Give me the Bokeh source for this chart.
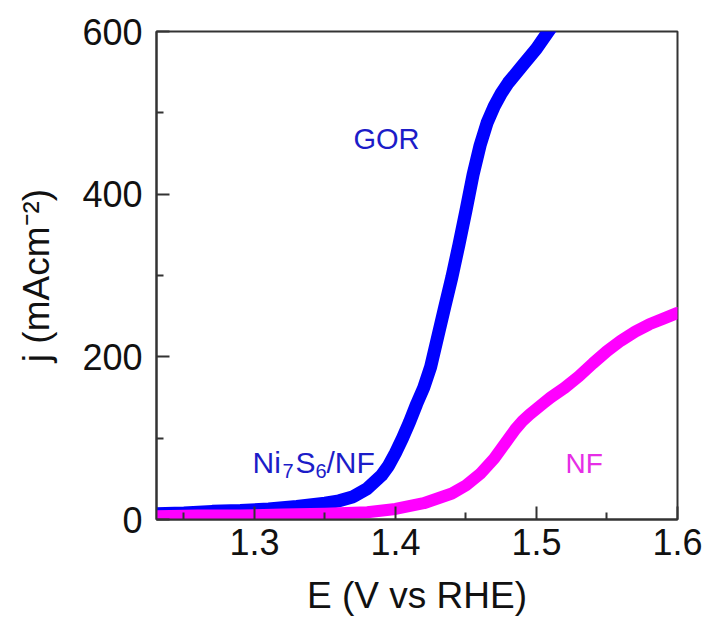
from bokeh.plotting import figure
from bokeh.models import Range1d, FixedTicker, Label
from bokeh.embed import file_html
from bokeh.resources import INLINE

# ---- data ----
e_ni7s6 = [1.230, 1.250, 1.270, 1.290, 1.310, 1.330, 1.350, 1.360, 1.370, 1.380,
           1.390, 1.395, 1.400, 1.405, 1.410, 1.415, 1.420, 1.425, 1.430, 1.435,
           1.440, 1.445, 1.450, 1.455, 1.460, 1.465, 1.470, 1.475, 1.480, 1.490,
           1.500, 1.510]
j_ni7s6 = [7, 8, 10, 11, 13, 16, 20, 23, 28, 38,
           54, 66, 82, 100, 120, 142, 162, 188, 225, 262,
           298, 338, 380, 424, 460, 488, 508, 524, 537, 558,
           579, 604]

e_nf = [1.230, 1.260, 1.290, 1.320, 1.350, 1.380, 1.400, 1.420, 1.440, 1.450,
        1.460, 1.470, 1.475, 1.480, 1.485, 1.490, 1.495, 1.500, 1.505, 1.510,
        1.520, 1.530, 1.540, 1.550, 1.560, 1.570, 1.580, 1.590, 1.600]
j_nf = [4, 5, 5, 6, 7, 9, 13, 20, 32, 42,
        56, 75, 87, 99, 111, 121, 129, 136, 143, 150,
        162, 176, 192, 207, 220, 231, 240, 247, 254]

x_ticks = [1.3, 1.4, 1.5, 1.6]
x_minor_ticks = [1.25, 1.35, 1.45, 1.55]
y_ticks = [0, 200, 400, 600]
y_minor_ticks = [100, 300, 500]

x_title = "E (V vs RHE)"
y_title = "j (mAcm\u207b\u00b2)"

BLUE = "#0000ff"
MAGENTA = "#ff00ff"
BLUE_TEXT = "#1c1cc8"
MAGENTA_TEXT = "#e62ee6"
AXIS = "#333333"

p = figure(width=707, height=630, output_backend="svg", toolbar_location=None,
           x_range=Range1d(1.2305, 1.6), y_range=Range1d(0, 600),
           min_border_left=156, min_border_right=30,
           min_border_top=31, min_border_bottom=111)
p.grid.visible = False
p.background_fill_color = "white"
p.border_fill_color = "white"
p.outline_line_color = AXIS
p.outline_line_width = 2

p.xaxis.ticker = FixedTicker(ticks=x_ticks, minor_ticks=x_minor_ticks)
p.yaxis.ticker = FixedTicker(ticks=y_ticks, minor_ticks=y_minor_ticks)

for ax in (p.xaxis[0], p.yaxis[0]):
    ax.major_tick_in = 13
    ax.major_tick_out = 0
    ax.minor_tick_in = 7
    ax.minor_tick_out = 0
    ax.axis_line_width = 2
    ax.axis_line_color = AXIS
    ax.major_tick_line_width = 2
    ax.major_tick_line_color = AXIS
    ax.minor_tick_line_width = 2
    ax.minor_tick_line_color = AXIS
    ax.major_label_text_font = "Liberation Sans"
    ax.major_label_text_font_size = "36px"
    ax.major_label_text_color = "#111111"
    ax.axis_label_text_font = "Liberation Sans"
    ax.axis_label_text_font_size = "37px"
    ax.axis_label_text_font_style = "normal"
    ax.axis_label_text_color = "#111111"
p.xaxis.major_label_standoff = 9
p.yaxis.major_label_standoff = 14
p.xaxis.axis_label = x_title
p.yaxis.axis_label = y_title
p.xaxis.axis_label_standoff = 17
p.yaxis.axis_label_standoff = 22

p.line(e_ni7s6, j_ni7s6, line_color=BLUE, line_width=13,
       line_cap="round", line_join="round")
p.line(e_nf, j_nf, line_color=MAGENTA, line_width=12,
       line_cap="round", line_join="round")

L, B = 156, 519  # frame left / bottom on the canvas


def lab(text, cx, cy, size, color):
    p.add_layout(Label(x=cx - L, y=B - cy, x_units="screen", y_units="screen",
                       text=text, text_font="Liberation Sans", text_font_size=size,
                       text_color=color, text_baseline="alphabetic",
                       text_align="left"))


# annotations
lab("GOR", 353, 138, "29px", BLUE_TEXT)
lab("Ni", 252, 462, "30px", BLUE_TEXT)
lab("7", 282, 470, "20px", BLUE_TEXT)
lab("S", 295, 462, "30px", BLUE_TEXT)
lab("6", 315, 470, "20px", BLUE_TEXT)
lab("/NF", 326, 462, "30px", BLUE_TEXT)
lab("NF", 565, 463, "28px", MAGENTA_TEXT)

open("out.html", "w").write(file_html(p, INLINE))
